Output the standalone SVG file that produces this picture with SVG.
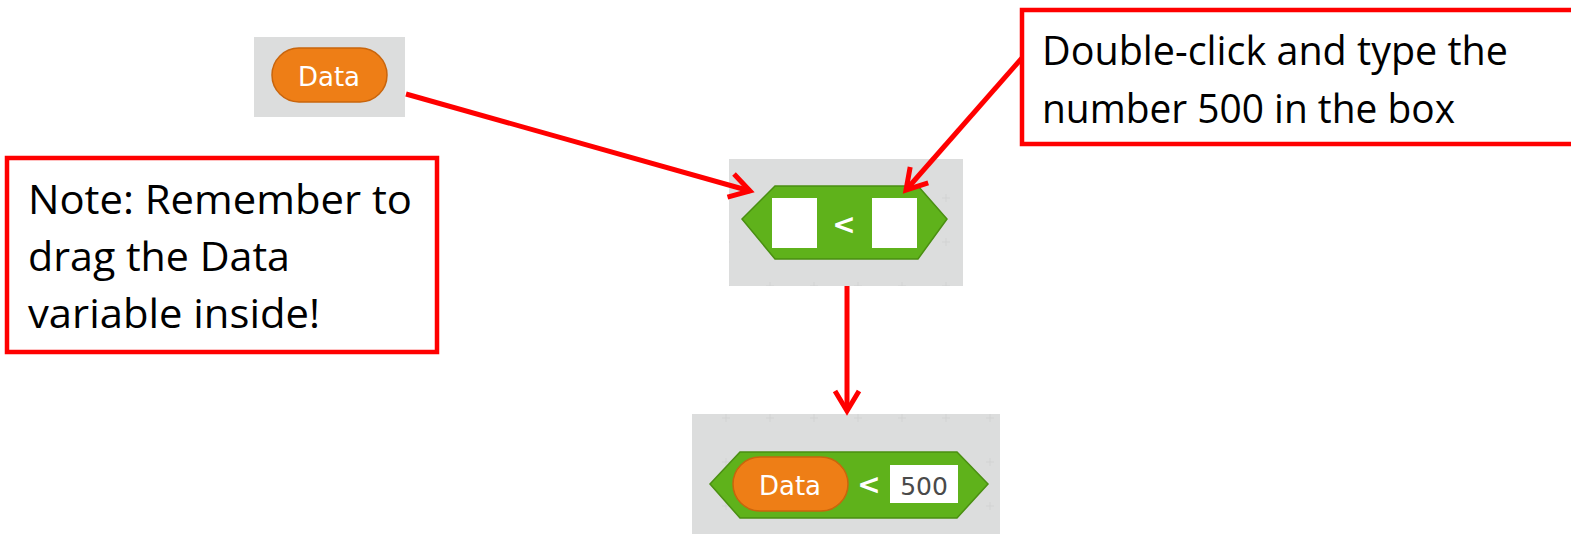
<svg xmlns="http://www.w3.org/2000/svg" width="1571" height="534" viewBox="0 0 1571 534">
  <style>
    .panel { fill: #dcdddd; }
    .pill { fill: #ee7e16; stroke: #c9650c; stroke-width: 1.5; }
    .pill-text { font-family: "DejaVu Sans", sans-serif; font-size: 26px; fill: #ffffff; text-anchor: middle; }
    .hex { fill: #5fb21b; stroke: #4a8f12; stroke-width: 1.5; }
    .slot { fill: #ffffff; }
    .op { font-family: "DejaVu Sans", sans-serif; font-size: 28px; font-weight: bold; fill: #ffffff; text-anchor: middle; }
    .callout { fill: #ffffff; stroke: #ff0000; stroke-width: 4.5; }
    .note { font-family: "Open Sans", "Noto Sans", sans-serif; font-size: 41px; fill: #000000; }
    .link { fill: none; stroke: #ff0000; stroke-width: 5; }
  </style>
  <defs>
    <marker id="head" viewBox="-24 -14 28 28" refX="0" refY="0" markerWidth="28" markerHeight="28" markerUnits="userSpaceOnUse" orient="auto" overflow="visible">
      <path d="M -20,-12 L 0,0 L -20,12" fill="none" stroke="#ff0000" stroke-width="5" stroke-linejoin="miter"/>
    </marker>
    <pattern id="grid" width="44" height="44" patternUnits="userSpaceOnUse">
      <path d="M 22,18 V 26 M 18,22 H 26" stroke="#d2d3d3" stroke-width="1"/>
    </pattern>
  </defs>

  <!-- variable block -->
  <g id="data-variable">
    <rect class="panel" x="254" y="37" width="151" height="80"/>
    <rect class="pill" x="272" y="48" width="115" height="54" rx="27"/>
    <text class="pill-text" x="329" y="86">Data</text>
  </g>

  <!-- empty comparison block -->
  <g id="less-than-empty">
    <rect class="panel" x="729" y="159" width="234" height="127"/>
    <rect x="729" y="159" width="234" height="127" fill="url(#grid)"/>
    <path class="hex" d="M 742,219 L 775,186 L 918,186 L 947,219 L 918,259 L 775,259 Z"/>
    <rect class="slot" x="772" y="198" width="45" height="50"/>
    <rect class="slot" x="872" y="198" width="45" height="50"/>
    <text class="op" x="844" y="234">&lt;</text>
  </g>

  <!-- filled comparison block -->
  <g id="less-than-filled">
    <rect class="panel" x="692" y="414" width="308" height="120"/>
    <rect x="692" y="414" width="308" height="120" fill="url(#grid)"/>
    <path class="hex" d="M 710,484 L 740,452 L 957,452 L 988,484 L 957,518 L 740,518 Z"/>
    <rect class="pill" x="733" y="457" width="115" height="54" rx="27"/>
    <text class="pill-text" x="790" y="495">Data</text>
    <text class="op" x="869" y="494">&lt;</text>
    <rect class="slot" x="890" y="465" width="68" height="38"/>
    <text x="924" y="495" font-family="DejaVu Sans, sans-serif" font-size="25" fill="#4a4a4a" text-anchor="middle">500</text>
  </g>

  <!-- note on the left -->
  <g id="note-drag">
    <rect class="callout" x="7" y="158" width="430" height="194"/>
    <text class="note" x="28" y="214" textLength="384" lengthAdjust="spacingAndGlyphs">Note: Remember to</text>
    <text class="note" x="28" y="271" textLength="262" lengthAdjust="spacingAndGlyphs">drag the Data</text>
    <text class="note" x="28" y="328" textLength="292" lengthAdjust="spacingAndGlyphs">variable inside!</text>
  </g>

  <!-- note on the right -->
  <g id="note-type">
    <rect class="callout" x="1022" y="10" width="560" height="134"/>
    <text class="note" x="1042" y="65" textLength="466" lengthAdjust="spacingAndGlyphs">Double-click and type the</text>
    <text class="note" x="1042" y="123" textLength="413" lengthAdjust="spacingAndGlyphs">number 500 in the box</text>
  </g>

  <!-- connectors -->
  <g id="connectors">
    <line class="link" x1="406" y1="94" x2="750" y2="191" marker-end="url(#head)"/>
    <line class="link" x1="1022" y1="58" x2="906" y2="190" marker-end="url(#head)"/>
    <line class="link" x1="847" y1="286" x2="847" y2="411" marker-end="url(#head)"/>
  </g>
</svg>
